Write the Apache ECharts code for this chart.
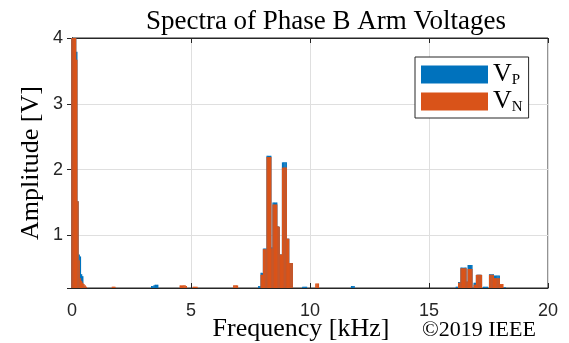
<!DOCTYPE html>
<html><head><meta charset="utf-8">
<script src="https://cdn.jsdelivr.net/npm/echarts@6/dist/echarts.min.js"></script>
<style>html,body{margin:0;padding:0;background:#fff}#c{width:569px;height:343px}</style>
</head><body><div id="c"></div>
<script>
// Frequency bins (kHz) and amplitudes (V); null = below visible range
const freqKHz = [0.00,0.05,0.10,0.15,0.20,0.25,0.30,0.35,0.40,0.45,0.50,0.55,0.60,
  1.70,1.75,1.80, 3.35,3.40,3.45,3.50,3.55,3.60, 4.55,4.60,4.65,4.70,4.75,4.80,
  5.10,5.15,5.20,5.25, 6.80,6.85,6.90,6.95,
  7.85,7.90,7.95,8.00,8.05,8.10,8.15,8.20,8.25,8.30,8.35,8.40,8.45,8.50,8.55,8.60,
  8.65,8.70,8.75,8.80,8.85,8.90,8.95,9.00,9.05,9.10,9.15,9.20,9.25,
  9.70,9.75,9.80,9.85, 10.25,10.30,10.35, 11.75,11.80,11.85,
  16.15,16.20,16.25,16.30,16.35,16.40,16.45,16.50,16.55,16.60,16.65,16.70,16.75,16.80,
  16.90,16.95,17.00,17.05,17.10,17.15,17.20,17.30,17.35,17.40,17.45,
  17.55,17.60,17.65,17.70,17.75,17.80,17.85,17.90,17.95,18.00,18.05,18.10,18.15,18.20];
const ampVP = [4.3,4.3,4.3,4.3,3.79,1.52,0.71,0.68,0.41,0.38,0.22,0.22,null,
  null,null,null, 0.23,0.23,0.24,0.25,0.25,0.25, null,null,null,null,null,null,
  null,null,null,null, null,null,null,null,
  0.23,0.23,0.43,0.43,0.80,0.80,0.80,2.21,2.21,2.21,2.21,0.82,1.50,1.50,1.50,1.50,
  1.14,1.13,0.71,0.71,2.11,2.11,2.11,2.11,0.95,0.95,0.58,0.58,0.58,
  0.22,0.22,0.22,0.22, null,null,null, 0.23,0.23,0.23,
  0.22,0.22,0.29,0.29,0.51,0.51,0.51,0.51,0.51,0.30,0.55,0.55,0.55,0.55,
  0.28,0.28,0.40,0.40,0.40,0.40,0.40,0.22,0.22,0.22,0.22,
  0.41,0.41,0.41,0.41,0.39,0.39,0.39,0.39,0.39,null,null,null,0.21,0.21];
const ampVN = [4.3,4.3,4.3,4.3,3.67,1.52,0.62,0.35,0.31,0.28,0.26,0.24,0.22,
  0.22,0.22,0.22, null,null,null,null,null,null, 0.24,0.24,0.24,0.24,0.24,0.23,
  0.22,0.22,0.22,0.22, 0.24,0.24,0.24,0.24,
  null,null,0.40,0.40,0.79,0.79,0.79,2.19,2.19,2.19,2.19,0.80,1.47,1.47,1.47,1.47,
  1.14,1.13,0.71,0.71,2.03,2.03,2.03,2.03,0.95,0.95,0.58,0.58,0.58,
  null,null,null,null, 0.27,0.27,0.27, null,null,null,
  null,null,0.28,0.28,0.50,0.50,0.50,0.50,0.50,0.30,0.49,0.49,0.49,0.49,
  0.25,0.25,0.40,0.40,0.40,0.40,0.40,null,null,null,null,
  0.40,0.40,0.40,0.40,0.35,0.35,0.35,0.35,0.35,0.26,0.26,0.26,null,null];
const xTicks = [0, 5, 10, 15, 20];
const yTicks = [1, 2, 3, 4];
const seriesNames = ['VP', 'VN'];

const toPairs = arr => freqKHz.map((f, i) => [f, arr[i]]).filter(p => p[1] != null);
const serif = 'Liberation Serif';
const sans = 'Liberation Sans';
const axisColor = '#262626';

const chart = echarts.init(document.getElementById('c'), null, {renderer: 'canvas'});
chart.setOption({
  animation: false,
  backgroundColor: '#fff',
  title: {
    text: 'Spectra of Phase B Arm Voltages',
    left: 321, top: 3, textAlign: 'center',
    textStyle: {fontFamily: serif, fontSize: 27, fontWeight: 'normal', color: '#000'}
  },
  grid: {left: 72, right: 21, top: 38, bottom: 55, show: true, borderColor: axisColor, borderWidth: 1, containLabel: false},
  legend: {
    left: 415, top: 57, orient: 'vertical', itemWidth: 67, itemHeight: 18, itemGap: 0,
    padding: [4, 6, 3, 6], borderColor: axisColor, borderWidth: 1, backgroundColor: '#fff',
    icon: 'rect', data: seriesNames,
    formatter: n => '{v|V}{s|' + n.slice(1) + '}',
    textStyle: {
      lineHeight: 24,
      rich: {
        v: {fontFamily: serif, fontSize: 26, color: '#000', lineHeight: 24},
        s: {fontFamily: serif, fontSize: 15, color: '#000', lineHeight: 24, padding: [12, 0, 0, 0]}
      }
    }
  },
  xAxis: [{
    type: 'value', min: xTicks[0], max: xTicks[xTicks.length - 1], interval: 5,
    axisLine: {show: true, lineStyle: {color: axisColor, width: 1}},
    axisTick: {show: true, inside: true, length: 5, lineStyle: {color: axisColor}},
    axisLabel: {color: axisColor, fontFamily: sans, fontSize: 18, margin: 14},
    splitLine: {show: true, lineStyle: {color: '#dfdfdf', width: 1}}
  }, {
    type: 'value', position: 'top', min: xTicks[0], max: xTicks[xTicks.length - 1], interval: 5,
    axisLine: {show: true, lineStyle: {color: axisColor}},
    axisTick: {show: true, inside: true, length: 5, lineStyle: {color: axisColor}},
    axisLabel: {show: false}, splitLine: {show: false}
  }],
  yAxis: [{
    type: 'value', min: 0.2, max: 4,
    axisLine: {show: true, lineStyle: {color: axisColor, width: 1}},
    axisTick: {show: true, inside: true, length: 5, lineStyle: {color: axisColor}},
    axisLabel: {color: axisColor, fontFamily: sans, fontSize: 18, margin: 9,
      formatter: v => yTicks.indexOf(Math.round(v * 1000) / 1000) >= 0 ? String(Math.round(v)) : ''},
    splitLine: {show: true, lineStyle: {color: '#dfdfdf', width: 1}}
  }, {
    type: 'value', position: 'right', min: 0.2, max: 4,
    axisLine: {show: true, lineStyle: {color: axisColor}},
    axisTick: {show: true, inside: true, length: 5, lineStyle: {color: axisColor}},
    axisLabel: {show: false}, splitLine: {show: false}
  }],
  series: [{
    name: 'VP', type: 'bar', xAxisIndex: 0, yAxisIndex: 0, data: toPairs(ampVP),
    barWidth: 1.5, barGap: '-100%', itemStyle: {color: '#0072BD'}, clip: true
  }, {
    name: 'VN', type: 'bar', xAxisIndex: 0, yAxisIndex: 0, data: toPairs(ampVN),
    barWidth: 1.5, barGap: '-100%', itemStyle: {color: '#D95319'}, clip: true
  }],
  graphic: [
    {type: 'text', style: {text: 'Frequency [kHz]', x: 301, y: 329, align: 'center', verticalAlign: 'middle', font: '26px "Liberation Serif"', fill: '#000'}},
    {type: 'text', style: {text: 'Amplitude [V]', x: 0, y: 0, align: 'center', verticalAlign: 'middle', font: '26px "Liberation Serif"', fill: '#000'}, x: 31, y: 163, rotation: Math.PI / 2},
    {type: 'text', style: {text: '\u00A92019 IEEE', x: 479, y: 330, align: 'center', verticalAlign: 'middle', font: '22px "Liberation Serif"', fill: '#000'}}
  ]
});
</script></body></html>
